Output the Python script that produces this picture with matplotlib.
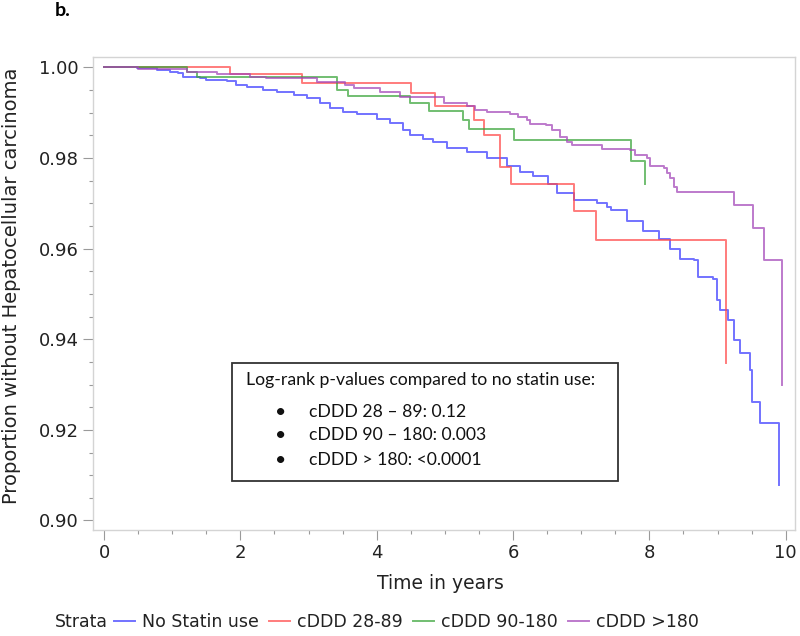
import matplotlib
matplotlib.use("Agg")
import matplotlib.pyplot as plt
from matplotlib.ticker import MultipleLocator, FormatStrFormatter
from matplotlib.patches import Rectangle
from matplotlib.lines import Line2D

plt.rcParams['font.family'] = ['DejaVu Sans']

# Kaplan-Meier step data (time in years, survival)
no_statin_t = [0, 0.48, 0.77, 0.96, 1.09, 1.16, 1.41, 1.50, 1.80, 1.94, 2.09, 2.33,
               2.53, 2.78, 2.97, 3.17, 3.31, 3.51, 3.71, 4.00, 4.20, 4.39, 4.49,
               4.68, 4.83, 5.03, 5.32, 5.62, 5.91, 6.10, 6.30, 6.52, 6.64, 6.89,
               7.23, 7.38, 7.43, 7.67, 7.91, 8.14, 8.31, 8.45, 8.65, 8.72, 8.94,
               8.99, 9.04, 9.16, 9.24, 9.33, 9.48, 9.51, 9.62, 9.90]
no_statin_s = [1.0, 0.9998, 0.9994, 0.9990, 0.9987, 0.9979, 0.9976, 0.9972, 0.9970,
               0.9961, 0.9957, 0.9950, 0.9946, 0.9939, 0.9932, 0.9921, 0.9911,
               0.9902, 0.9897, 0.9887, 0.9878, 0.9862, 0.9851, 0.9841, 0.9836,
               0.9823, 0.9814, 0.9799, 0.9782, 0.9770, 0.9760, 0.9742, 0.9722,
               0.9707, 0.9700, 0.9692, 0.9685, 0.9660, 0.9640, 0.9622, 0.9600,
               0.9578, 0.9575, 0.9538, 0.9534, 0.9486, 0.9464, 0.9442, 0.9398,
               0.9369, 0.9332, 0.9262, 0.9216, 0.9078]

low_t = [0, 1.85, 2.91, 4.50, 4.86, 5.43, 5.57, 5.81, 5.97, 6.89, 7.22, 9.13]
low_s = [1.0, 0.9985, 0.9965, 0.9943, 0.9915, 0.9884, 0.9851, 0.9781, 0.9742,
         0.9683, 0.9619, 0.9347]

mid_t = [0, 1.21, 1.36, 3.41, 3.58, 4.49, 4.77, 5.27, 5.35, 6.01, 7.73, 7.94]
mid_s = [1.0, 0.9990, 0.9978, 0.9951, 0.9937, 0.9922, 0.9904, 0.9884, 0.9863,
         0.9840, 0.9793, 0.9742]

high_t = [0, 0.50, 1.21, 1.65, 2.14, 2.38, 3.12, 3.53, 3.66, 4.05, 4.34, 4.98,
          5.32, 5.44, 5.62, 5.96, 6.08, 6.20, 6.25, 6.49, 6.57, 6.69, 6.79, 6.86,
          7.30, 7.72, 7.79, 7.96, 8.01, 8.21, 8.26, 8.31, 8.36, 8.41, 9.24, 9.52,
          9.68, 9.94]
high_s = [1.0, 0.9996, 0.9989, 0.9985, 0.9979, 0.9977, 0.9968, 0.9961, 0.9955,
          0.9946, 0.9935, 0.9921, 0.9915, 0.9907, 0.9902, 0.9897, 0.9890, 0.9884,
          0.9876, 0.9873, 0.9862, 0.9847, 0.9836, 0.9829, 0.9819, 0.9817, 0.9806,
          0.9799, 0.9782, 0.9777, 0.9766, 0.9755, 0.9736, 0.9725, 0.9696, 0.9645,
          0.9575, 0.9299]

labels = ['No Statin use', 'cDDD 28-89', 'cDDD 90-180', 'cDDD >180']
colors = ['#3c3cff', '#ff4a4a', '#3aa53a', '#a347b8']

pvalue_lines = ['cDDD 28 \u2013 89: 0.12', 'cDDD 90 \u2013 180: 0.003',
                'cDDD > 180: <0.0001']

fig = plt.figure(figsize=(8, 6.36), dpi=100)
ax = fig.add_axes([0.116, 0.1667, 0.878, 0.7437])

series = [(no_statin_t, no_statin_s), (low_t, low_s), (mid_t, mid_s), (high_t, high_s)]
for (t, s), c, lab in zip(series, colors, labels):
    ax.step(t, s, where='post', color=c, lw=1.4, alpha=0.72, label=lab)

ax.set_xlim(-0.166, 10.14)
ax.set_ylim(0.8979, 1.0023)
ax.xaxis.set_major_locator(MultipleLocator(2))
ax.xaxis.set_minor_locator(MultipleLocator(0.5))
ax.yaxis.set_major_locator(MultipleLocator(0.02))
ax.yaxis.set_minor_locator(MultipleLocator(0.005))
ax.yaxis.set_major_formatter(FormatStrFormatter('%.2f'))
ax.tick_params(which='major', length=7, width=0.8, color='#9a9a9a',
               labelsize=13, labelcolor='#222222', pad=3)
ax.tick_params(which='minor', length=3, width=0.8, color='#9a9a9a')
for sp in ax.spines.values():
    sp.set_color('#d4d4d4')
    sp.set_linewidth(1.0)

fig.text(0.015, 0.55, 'Proportion without Hepatocellular carcinoma', rotation=90,
         ha='center', va='center', fontsize=14, color='#222222')
fig.text(0.55, 0.083, 'Time in years', ha='center', va='center', fontsize=13.5,
         color='#222222')
fig.text(0.069, 0.983, 'b.', ha='left', va='center', fontsize=14,
         fontweight='bold', family=['Lato', 'DejaVu Sans'])

# p-value box
fig.patches.append(Rectangle((0.29, 0.2437), 0.4825, 0.1855, transform=fig.transFigure,
                             fill=False, edgecolor='#333333', lw=1.3))
box_font = ['Lato', 'DejaVu Sans']
fig.text(0.3075, 0.4025, 'Log-rank p-values compared to no statin use:', ha='left',
         va='center', fontsize=12.7, family=box_font, color='#111111')
for yy, line in zip([0.3522, 0.316, 0.2767], pvalue_lines):
    fig.text(0.351, yy, '\u2022', ha='center', va='center', fontsize=14,
             family=box_font, color='#111111')
    fig.text(0.386, yy, line, ha='left', va='center', fontsize=12.7,
             family=box_font, color='#111111')

# bottom legend
fig.text(0.069, 0.022, 'Strata', ha='left', va='center', fontsize=12.5, color='#222222')
handles = [Line2D([], [], color=c, lw=1.4, alpha=0.72) for c in colors]
fig.legend(handles, labels, loc='center left', bbox_to_anchor=(0.143, 0.022),
           ncol=4, frameon=False, fontsize=12.5, handlelength=1.2, handletextpad=0.4,
           columnspacing=0.6, borderaxespad=0, borderpad=0, labelcolor='#222222')

fig.savefig('out.png', dpi=100)
